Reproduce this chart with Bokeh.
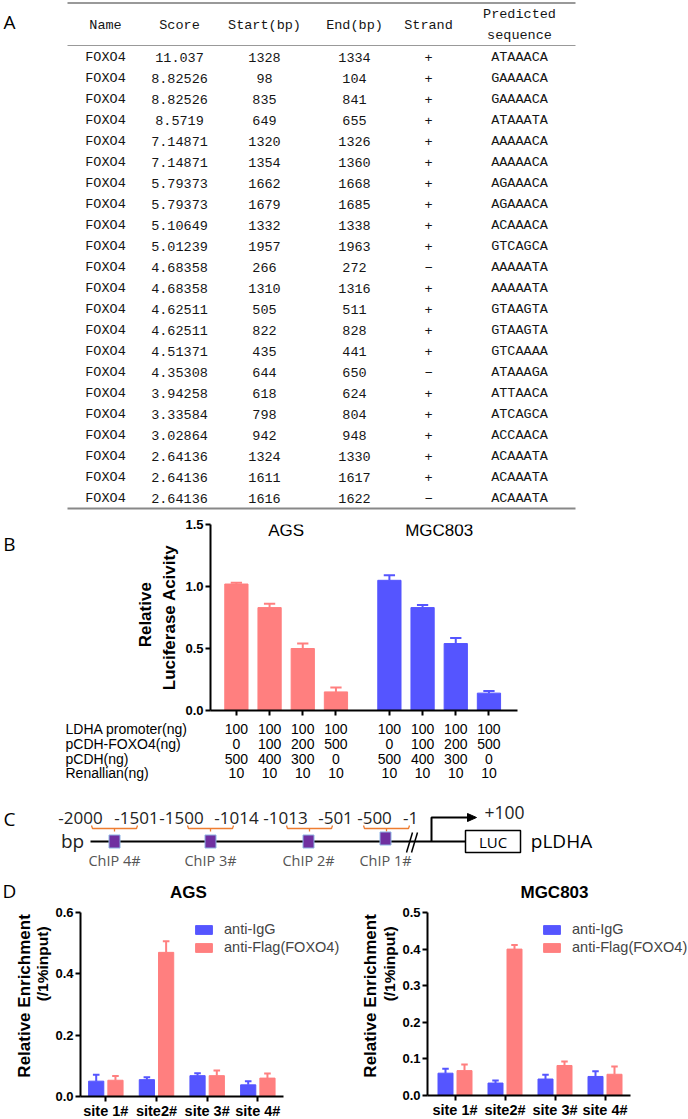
import math
from bokeh.plotting import figure
from bokeh.layouts import column, row
from bokeh.models import Range1d, FixedTicker, NumeralTickFormatter, Legend, LegendItem
from bokeh.core.properties import value
from bokeh.embed import file_html
from bokeh.resources import INLINE

# ================= DATA =================
# Panel A table
tbl_header = ["Name", "Score", "Start(bp)", "End(bp)", "Strand"]
tbl_header_last = ["Predicted", "sequence"]
tbl_name = ["FOXO4"] * 22
tbl_score = ["11.037", "8.82526", "8.82526", "8.5719", "7.14871", "7.14871", "5.79373",
             "5.79373", "5.10649", "5.01239", "4.68358", "4.68358", "4.62511", "4.62511",
             "4.51371", "4.35308", "3.94258", "3.33584", "3.02864", "2.64136", "2.64136", "2.64136"]
tbl_start = [1328, 98, 835, 649, 1320, 1354, 1662, 1679, 1332, 1957, 266, 1310, 505, 822,
             435, 644, 618, 798, 942, 1324, 1611, 1616]
tbl_end = [1334, 104, 841, 655, 1326, 1360, 1668, 1685, 1338, 1963, 272, 1316, 511, 828,
           441, 650, 624, 804, 948, 1330, 1617, 1622]
tbl_strand = ["+", "+", "+", "+", "+", "+", "+", "+", "+", "+", "\u2212", "+", "+", "+",
              "+", "\u2212", "+", "+", "+", "+", "+", "\u2212"]
tbl_seq = ["ATAAACA", "GAAAACA", "GAAAACA", "ATAAATA", "AAAAACA", "AAAAACA", "AGAAACA",
           "AGAAACA", "ACAAACA", "GTCAGCA", "AAAAATA", "AAAAATA", "GTAAGTA", "GTAAGTA",
           "GTCAAAA", "ATAAAGA", "ATTAACA", "ATCAGCA", "ACCAACA", "ACAAATA", "ACAAATA", "ACAAATA"]

# Panel B
b_cells = ["AGS", "MGC803"]
b_ags = [1.02, 0.83, 0.50, 0.15]
b_ags_err = [0.01, 0.03, 0.04, 0.035]
b_mgc = [1.05, 0.83, 0.54, 0.14]
b_mgc_err = [0.04, 0.02, 0.045, 0.018]
b_yticks = [0, 0.5, 1.0, 1.5]
b_ylabel = ["Relative", "Luciferase Acivity"]
b_row_labels = ["LDHA promoter(ng)", "pCDH-FOXO4(ng)", "pCDH(ng)", "Renallian(ng)"]
b_ldha = [100, 100, 100, 100, 100, 100, 100, 100]
b_foxo4 = [0, 100, 200, 500, 0, 100, 200, 500]
b_pcdh = [500, 400, 300, 0, 500, 400, 300, 0]
b_ren = [10, 10, 10, 10, 10, 10, 10, 10]

# Panel C
c_ranges = ["-2000", "-1501", "-1500", "-1014", "-1013", "-501", "-500", "-1"]
c_chip = ["ChIP 4#", "ChIP 3#", "ChIP 2#", "ChIP 1#"]

# Panel D
d_titles = ["AGS", "MGC803"]
d_sites = ["site 1#", "site2#", "site 3#", "site 4#"]
d_series = ["anti-IgG", "anti-Flag(FOXO4)"]
d_ags_igg = [0.050, 0.055, 0.068, 0.038]
d_ags_igg_err = [0.021, 0.008, 0.008, 0.012]
d_ags_flag = [0.053, 0.470, 0.068, 0.060]
d_ags_flag_err = [0.014, 0.036, 0.017, 0.015]
d_mgc_igg = [0.061, 0.034, 0.045, 0.052]
d_mgc_igg_err = [0.012, 0.007, 0.012, 0.014]
d_mgc_flag = [0.068, 0.400, 0.082, 0.058]
d_mgc_flag_err = [0.017, 0.011, 0.011, 0.021]
d_ags_yticks = [0, 0.2, 0.4, 0.6]
d_mgc_yticks = [0, 0.1, 0.2, 0.3, 0.4, 0.5]
d_ylabel = ["Relative Enrichment", "(/1%input)"]

PINK = "#FF7F7F"
BLUE = "#5555FF"
SANS = "Liberation Sans"
OPEN = "Open Sans"
MONO = "Liberation Mono"


# ================= HELPERS =================
def pix(x0, x1, y0, y1):
    p = figure(width=x1 - x0, height=y1 - y0, x_range=Range1d(x0, x1), y_range=Range1d(y1, y0),
               output_backend="svg", toolbar_location=None, min_border=0,
               x_axis_type=None, y_axis_type=None)
    p.outline_line_color = None
    p.background_fill_color = "white"
    p.border_fill_color = "white"
    return p


def txt(p, x, y, s, size, font=SANS, style="normal", align="center", baseline="middle",
        color="black", angle=0.0):
    p.text(x=[x], y=[y], text=[s], text_font=value(font), text_font_size=f"{size}px",
           text_font_style=style, text_align=align, text_baseline=baseline,
           text_color=color, angle=angle)


def style_axes(p, size="13px"):
    p.grid.visible = False
    p.outline_line_color = None
    for ax in p.axis:
        ax.axis_line_width = 2
        ax.axis_line_color = "black"
        ax.major_tick_line_width = 2
        ax.major_tick_line_color = "black"
        ax.major_tick_out = 5
        ax.major_tick_in = 0
        ax.minor_tick_line_color = None
        ax.major_label_text_font = SANS
        ax.major_label_text_font_style = "bold"
        ax.major_label_text_font_size = size
        ax.major_label_text_color = "black"
        ax.major_label_standoff = 2


def err_bars(p, xs, vals, errs, color, cap_half, lw=2):
    tops = [v + e for v, e in zip(vals, errs)]
    p.segment(x0=xs, y0=vals, x1=xs, y1=tops, line_color=color, line_width=lw)
    p.segment(x0=[x - cap_half for x in xs], y0=tops, x1=[x + cap_half for x in xs], y1=tops,
              line_color=color, line_width=lw)


# ================= PANEL A =================
fa = pix(0, 688, 0, 516)
txt(fa, 9, 21, "A", 19, font=OPEN)
tx0, tx1 = 67, 575
fa.line([tx0, tx1], [2.5, 2.5], line_color="#777777", line_width=1.5)
fa.line([tx0, tx1], [45, 45], line_color="#999999", line_width=1)
fa.line([tx0, tx1], [508, 508], line_color="#888888", line_width=2)
col_x = [105, 179, 264, 354, 428, 519]
TCOL = "#151515"
TSIZE = "13.5px"
for cx, h in zip(col_x[:5], tbl_header):
    txt(fa, cx, 25, h, 13.5, font=MONO, color=TCOL)
txt(fa, col_x[5], 14, tbl_header_last[0], 13.5, font=MONO, color=TCOL)
txt(fa, col_x[5], 35, tbl_header_last[1], 13.5, font=MONO, color=TCOL)
row_y = [57 + 21 * i for i in range(len(tbl_name))]
cols = [tbl_name, tbl_score, [str(v) for v in tbl_start], [str(v) for v in tbl_end],
        tbl_strand, tbl_seq]
for cx, vals in zip(col_x, cols):
    fa.text(x=[cx] * len(vals), y=row_y, text=vals, text_font=value(MONO),
            text_font_size=TSIZE, text_align="center", text_baseline="middle", text_color=TCOL)

# ================= PANEL B =================
b_pos_ags = [1 + i for i in range(4)]
b_pos_mgc = [5.61 + i for i in range(4)]
b_pos = b_pos_ags + b_pos_mgc

fb = figure(frame_width=307, frame_height=186, x_range=Range1d(0.22, 9.47),
            y_range=Range1d(0, 1.5), min_border_left=30, min_border_right=5,
            min_border_top=8, min_border_bottom=8, output_backend="svg",
            toolbar_location=None)
fb.background_fill_color = "white"
fb.vbar(x=b_pos_ags, top=b_ags, width=0.7, fill_color=PINK, line_color=PINK)
fb.vbar(x=b_pos_mgc, top=b_mgc, width=0.7, fill_color=BLUE, line_color=BLUE)
err_bars(fb, b_pos_ags, b_ags, b_ags_err, PINK, 0.17)
err_bars(fb, b_pos_mgc, b_mgc, b_mgc_err, BLUE, 0.17)
for name, grp in zip(b_cells, [b_pos_ags, b_pos_mgc]):
    fb.text(x=[sum(grp) / len(grp)], y=[1.455], text=[name], text_font=value(SANS),
            text_font_size="17px", text_align="center", text_baseline="middle")
style_axes(fb)
fb.yaxis.ticker = FixedTicker(ticks=b_yticks)
fb.yaxis.formatter = NumeralTickFormatter(format="0.0")
fb.xaxis.ticker = FixedTicker(ticks=b_pos)
fb.xaxis.major_label_text_font_size = "1px"
fb.xaxis.major_label_text_alpha = 0
fb.xaxis.major_label_standoff = 0

fbl = pix(0, 180, 516, 718)
txt(fbl, 9, 537, "B", 19, font=OPEN)
txt(fbl, 145, 614, b_ylabel[0], 17, style="bold", angle=math.pi / 2)
txt(fbl, 168.5, 617, b_ylabel[1], 17, style="bold", angle=math.pi / 2)

fbt = figure(frame_width=307, frame_height=72, x_range=fb.x_range, y_range=Range1d(790, 718),
             min_border_left=20, min_border_right=5, min_border_top=0, min_border_bottom=0,
             x_axis_type=None, y_axis_type=None, output_backend="svg", toolbar_location=None)
fbt.outline_line_color = None
b_row_y = [728, 743, 758, 772.5]
for ry, vals in zip(b_row_y, [b_ldha, b_foxo4, b_pcdh, b_ren]):
    fbt.text(x=b_pos, y=[ry] * len(b_pos), text=[str(v) for v in vals], text_font=value(SANS),
             text_font_size="14px", text_align="center", text_baseline="middle")
fbtl = pix(0, 190, 718, 790)
fbtl.text(x=[65] * 4, y=b_row_y, text=b_row_labels, text_font=value(SANS),
          text_font_size="14px", text_align="left", text_baseline="middle")

# ================= PANEL C =================
fc = pix(0, 688, 790, 903)
txt(fc, 9, 818, "C", 19, font=OPEN)
c_range_x = [80, 136, 181, 236, 285, 335, 374, 410]
for cx, s in zip(c_range_x, c_ranges):
    txt(fc, cx, 817, s, 17, font=OPEN, color="#222222")
txt(fc, 504, 812, "+100", 17.5, font=OPEN, color="#222222")
# orange brackets
br = [(91, 137), (187, 233), (286, 332), (363, 409)]
for a, b in br:
    m = (a + b) / 2
    fc.line([a, a + 1, b - 1, b], [825, 828, 828, 825], line_color="#ED7D31", line_width=1.3)
    fc.line([m, m], [828, 831], line_color="#ED7D31", line_width=1.3)
txt(fc, 72, 840, "bp", 19, font=OPEN, color="#222222")
fc.line([90, 465], [841, 841], line_color="black", line_width=2)
sq_x = [114, 210, 308, 385]
sq_y = [841, 841, 841, 838]
fc.rect(x=sq_x, y=sq_y, width=11, height=13, fill_color="#7030A0", line_color="#8EB4E3",
        line_width=1)
fc.segment(x0=[406, 411], y0=[852, 852], x1=[412, 417], y1=[832, 832], line_color="black",
           line_width=1.5)
fc.line([431, 431, 469], [841, 817, 817], line_color="black", line_width=2)
fc.patch([476, 467, 467], [817, 813, 821], fill_color="black", line_color="black")
fc.rect(x=[492.5], y=[841], width=55, height=22, fill_color=None, line_color="black",
        line_width=1.5)
txt(fc, 492.5, 841, "LUC", 15, font=OPEN)
txt(fc, 561, 840, "pLDHA", 19, font=OPEN)
for cx, s in zip(sq_x, c_chip):
    txt(fc, cx, 860, s, 14.5, font=OPEN, color="#555555")
txt(fc, 9, 890, "D", 19, font=OPEN)
txt(fc, 188, 892, d_titles[0], 17, style="bold")
txt(fc, 554, 892, d_titles[1], 17, style="bold")


# ================= PANEL D =================
def d_chart(frame_w, frame_h, xr, yr, yticks, igg, igg_e, flag, flag_e, leg_loc, mb_right, mb_bottom):
    p = figure(frame_width=frame_w, frame_height=frame_h, x_range=Range1d(*xr),
               y_range=Range1d(*yr), min_border_left=27, min_border_right=mb_right,
               min_border_top=9, min_border_bottom=mb_bottom, output_backend="svg",
               toolbar_location=None)
    p.background_fill_color = "white"
    xc = [1 + i for i in range(len(d_sites))]
    x_igg = [x - 0.19 for x in xc]
    x_flag = [x + 0.19 for x in xc]
    r1 = p.vbar(x=x_igg, top=igg, width=0.30, fill_color=BLUE, line_color=BLUE)
    r2 = p.vbar(x=x_flag, top=flag, width=0.30, fill_color=PINK, line_color=PINK)
    err_bars(p, x_igg, igg, igg_e, BLUE, 0.065)
    err_bars(p, x_flag, flag, flag_e, PINK, 0.065)
    style_axes(p, "13px")
    p.xaxis.bounds = (xr[0], 4.5)
    p.xaxis.ticker = FixedTicker(ticks=xc)
    p.xaxis.major_label_overrides = {x: s for x, s in zip(xc, d_sites)}
    p.xaxis.major_label_text_font_size = "14.5px"
    p.xaxis.major_label_standoff = 1
    p.yaxis.ticker = FixedTicker(ticks=yticks)
    p.yaxis.formatter = NumeralTickFormatter(format="0.0")
    leg = Legend(items=[LegendItem(label=d_series[0], renderers=[r1]),
                        LegendItem(label=d_series[1], renderers=[r2])],
                 location=leg_loc, padding=0, margin=0, border_line_color=None,
                 background_fill_alpha=0, glyph_width=21, glyph_height=11, label_height=11,
                 spacing=2, label_standoff=10, label_text_font=SANS,
                 label_text_font_size="14.5px")
    p.add_layout(leg)
    return p


fd1 = d_chart(266, 184, (0.5, 5.75), (0, 0.6), d_ags_yticks, d_ags_igg, d_ags_igg_err,
              d_ags_flag, d_ags_flag_err, (113, 141), 0, 23)
fd2 = d_chart(261, 183, (0.45, 5.67), (0, 0.5), d_mgc_yticks, d_mgc_igg, d_mgc_igg_err,
              d_mgc_flag, d_mgc_flag_err, (114, 140), 2, 24)

fdl = pix(0, 52, 903, 1119)
txt(fdl, 24, 1002, d_ylabel[0], 17, style="bold", angle=math.pi / 2)
txt(fdl, 42, 964, d_ylabel[1], 15.5, style="bold", angle=math.pi / 2)
fdm = pix(345, 398, 903, 1119)
txt(fdm, 369, 1002, d_ylabel[0], 17, style="bold", angle=math.pi / 2)
txt(fdm, 388, 964, d_ylabel[1], 15.5, style="bold", angle=math.pi / 2)

layout = column(
    fa,
    row(fbl, fb, spacing=0),
    row(fbtl, fbt, spacing=0),
    fc,
    row(fdl, fd1, fdm, fd2, spacing=0),
    spacing=0,
)

open("out.html", "w").write(file_html(layout, INLINE))
